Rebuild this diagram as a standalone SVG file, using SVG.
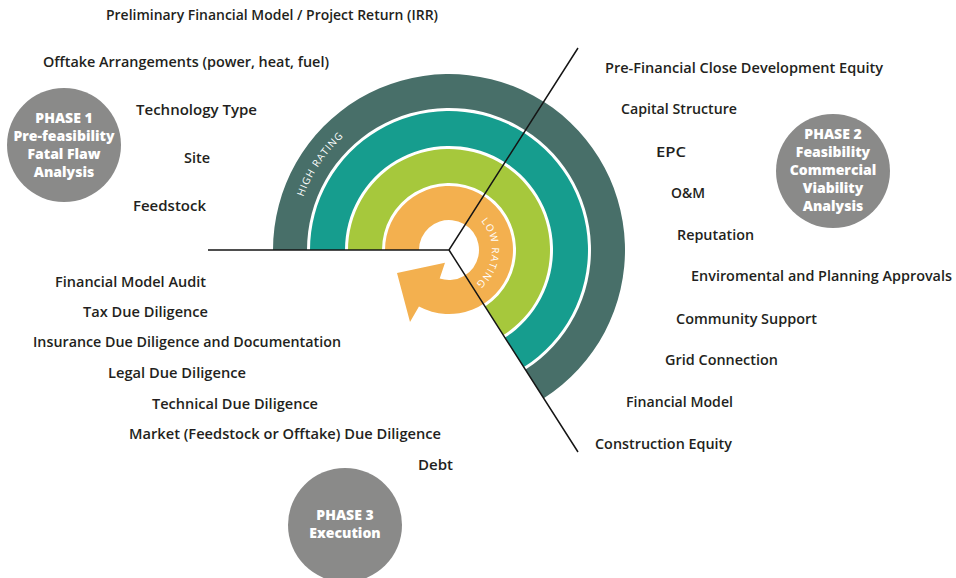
<svg xmlns="http://www.w3.org/2000/svg" width="956" height="578" viewBox="0 0 956 578">
<style>
.lbl{font-family:"Open Sans","Liberation Sans",sans-serif;font-weight:600;font-size:14px;fill:#231f20}
.ph{font-family:"Open Sans","Liberation Sans",sans-serif;font-weight:800;font-size:14px;fill:#ffffff;text-anchor:middle}
.circ{fill:#8a8a89}
.rt{font-family:"Open Sans","Liberation Sans",sans-serif;font-weight:500;font-size:10px;fill:#ffffff;letter-spacing:1px}
.ln{stroke:#151515;stroke-width:1.5;fill:none}
</style>
<defs>
<path id="highArc" d="M303.3 197 A155 155 0 0 1 360.1 123"/>
<path id="lowArc" d="M480.95 221.2 A43 43 0 0 1 470.5 287.2"/>
</defs>
<rect width="956" height="578" fill="#ffffff"/>

<g id="rings">
<path id="ring-dark" fill="#486f69" d="M273 250 A176 176 0 1 1 543.8 398.3 L525.5 369.6 A142 142 0 1 0 307 250 Z"/>
<path id="ring-teal" fill="#169d8e" d="M310 250 A139 139 0 1 1 523.9 367.1 L505 337.6 A104 104 0 1 0 345 250 Z"/>
<path id="ring-green" fill="#a6c83c" d="M348 250 A101 101 0 1 1 503.4 335.1 L485.1 306.4 A67 67 0 1 0 382 250 Z"/>
<path id="ring-orange" fill="#f3b04f" d="M385 250 A64 64 0 1 1 418.95 306.5 L410 322 L397 273 L445 262.7 L439.7 278.5 A30 30 0 1 0 419 250 Z"/>
<text class="rt"><textPath href="#highArc">HIGH RATING</textPath></text>
<text class="rt"><textPath href="#lowArc">LOW RATING</textPath></text>
</g>

<g id="connectors">
<path class="ln" d="M208 250 H449 L578 48 M449 250 L578 452"/>
</g>

<g id="phase1">
<circle class="circ" cx="64" cy="145" r="57"/>
<text class="ph" x="64" y="123">PHASE 1</text>
<text class="ph" x="64" y="141">Pre-feasibility</text>
<text class="ph" x="64" y="159">Fatal Flaw</text>
<text class="ph" x="64" y="177">Analysis</text>
</g>
<g id="phase2">
<circle class="circ" cx="833" cy="171" r="57"/>
<text class="ph" x="833" y="139">PHASE 2</text>
<text class="ph" x="833" y="157">Feasibility</text>
<text class="ph" x="833" y="175">Commercial</text>
<text class="ph" x="833" y="193">Viability</text>
<text class="ph" x="833" y="211">Analysis</text>
</g>
<g id="phase3">
<circle class="circ" cx="345" cy="525" r="57"/>
<text class="ph" x="345" y="520">PHASE 3</text>
<text class="ph" x="345" y="538">Execution</text>
</g>

<g id="labels-left">
<text class="lbl" x="106" y="20" textLength="332" lengthAdjust="spacingAndGlyphs">Preliminary Financial Model / Project Return (IRR)</text>
<text class="lbl" x="43" y="67" textLength="286" lengthAdjust="spacingAndGlyphs">Offtake Arrangements (power, heat, fuel)</text>
<text class="lbl" x="136" y="115" textLength="121" lengthAdjust="spacingAndGlyphs">Technology Type</text>
<text class="lbl" x="184" y="163" textLength="26" lengthAdjust="spacingAndGlyphs">Site</text>
<text class="lbl" x="133" y="211" textLength="73" lengthAdjust="spacingAndGlyphs">Feedstock</text>
<text class="lbl" x="55" y="287" textLength="151" lengthAdjust="spacingAndGlyphs">Financial Model Audit</text>
<text class="lbl" x="83" y="317" textLength="125" lengthAdjust="spacingAndGlyphs">Tax Due Diligence</text>
<text class="lbl" x="33" y="347" textLength="308" lengthAdjust="spacingAndGlyphs">Insurance Due Diligence and Documentation</text>
<text class="lbl" x="108" y="378" textLength="138" lengthAdjust="spacingAndGlyphs">Legal Due Diligence</text>
<text class="lbl" x="152" y="409" textLength="166" lengthAdjust="spacingAndGlyphs">Technical Due Diligence</text>
<text class="lbl" x="129" y="439" textLength="312" lengthAdjust="spacingAndGlyphs">Market (Feedstock or Offtake) Due Diligence</text>
<text class="lbl" x="418" y="470" textLength="35" lengthAdjust="spacingAndGlyphs">Debt</text>
</g>
<g id="labels-right">
<text class="lbl" x="605" y="73" textLength="278" lengthAdjust="spacingAndGlyphs">Pre-Financial Close Development Equity</text>
<text class="lbl" x="621" y="114" textLength="116" lengthAdjust="spacingAndGlyphs">Capital Structure</text>
<text class="lbl" x="656" y="157" textLength="30" lengthAdjust="spacingAndGlyphs">EPC</text>
<text class="lbl" x="671" y="198" textLength="34" lengthAdjust="spacingAndGlyphs">O&amp;M</text>
<text class="lbl" x="677" y="240" textLength="77" lengthAdjust="spacingAndGlyphs">Reputation</text>
<text class="lbl" x="691" y="281" textLength="261" lengthAdjust="spacingAndGlyphs">Enviromental and Planning Approvals</text>
<text class="lbl" x="676" y="324" textLength="141" lengthAdjust="spacingAndGlyphs">Community Support</text>
<text class="lbl" x="665" y="365" textLength="113" lengthAdjust="spacingAndGlyphs">Grid Connection</text>
<text class="lbl" x="626" y="407" textLength="107" lengthAdjust="spacingAndGlyphs">Financial Model</text>
<text class="lbl" x="595" y="449" textLength="137" lengthAdjust="spacingAndGlyphs">Construction Equity</text>
</g>
</svg>
